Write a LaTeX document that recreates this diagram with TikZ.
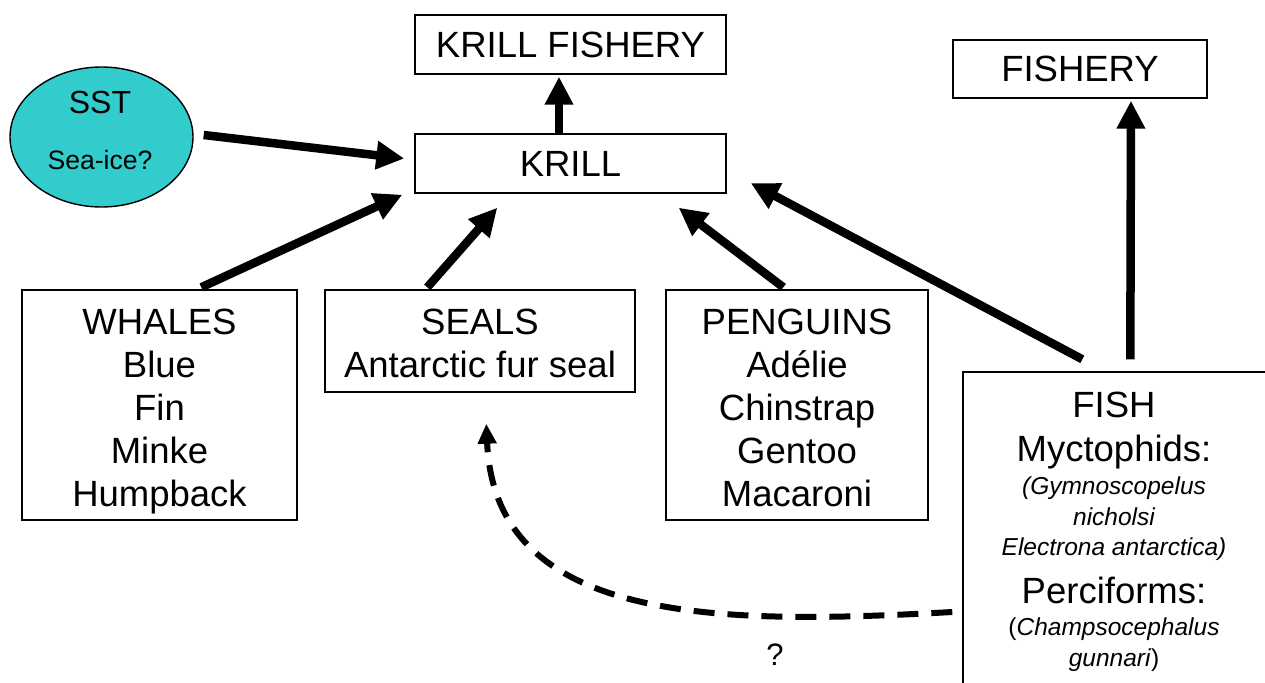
\documentclass[tikz,border=0pt]{standalone}
\usepackage{fontspec}
\setmainfont{Liberation Sans}
\usetikzlibrary{arrows.meta,shapes.geometric,calc}
\definecolor{sstfill}{HTML}{33CCCC}
\tikzset{
  box/.style={draw=black, line width=1.4pt, rectangle, inner sep=0pt, anchor=center},
  big/.style={font=\fontsize{36.5}{43}\selectfont},
  txt/.style={inner sep=0pt, align=center, anchor=north},
  bigarrow/.style={line width=8.5pt, -{Triangle[length=28pt,width=27pt]}},
  dasharrow/.style={line width=6pt, dash pattern=on 21pt off 13pt, -{Triangle[length=20pt,width=18pt]}}
}
\begin{document}
\begin{tikzpicture}[x=1pt,y=-1pt]
\useasboundingbox (0,0) rectangle (1265,682);
% boxes
\node[box, big, minimum width=311, minimum height=59] (kf) at (570.5,44.5) {KRILL FISHERY};
\node[box, big, minimum width=311, minimum height=59] (krill) at (570.5,163.5) {KRILL};
\node[box, big, minimum width=254, minimum height=58] (fishery) at (1080,69) {FISHERY};
\node[draw=black, line width=1.4pt, fill=sstfill, ellipse, inner sep=0pt, minimum width=183, minimum height=140] (sst) at (101.5,137) {};
\node[box, minimum width=275, minimum height=230] (whales) at (159.5,405) {};
\node[box, minimum width=310, minimum height=102] (seals) at (480,341) {};
\node[box, minimum width=262, minimum height=230] (penguins) at (797,405) {};
\node[box, minimum width=317, minimum height=328] (fish) at (1121.5,536) {};
% texts
\node[txt, font=\fontsize{32}{38}\selectfont] (ssttxt) at (100,91) {SST};
\node[txt, font=\fontsize{26.6}{32}\selectfont] (seaice) at (100,150) {Sea-ice?};
\node[txt, big] (whtxt) at (159.5,309) {WHALES\\Blue\\Fin\\Minke\\Humpback};
\node[txt, big] (setxt) at (480,309) {SEALS\\Antarctic fur seal};
\node[txt, big] (petxt) at (797,309) {PENGUINS\\Adélie\\Chinstrap\\Gentoo\\Macaroni};
\node[txt, font=\fontsize{36.5}{44}\selectfont] (fitxt) at (1114,392) {FISH\\Myctophids:};
\node[txt, font=\fontsize{24.5}{30.5}\selectfont\itshape] (mytxt) at (1114,477) {(Gymnoscopelus\\nicholsi\\Electrona antarctica)};
\node[txt, font=\fontsize{36.5}{44}\selectfont] (petxt2) at (1114,577) {Perciforms:};
\node[txt, font=\fontsize{24.5}{31}\selectfont] (chtxt) at (1114,618) {(\textit{Champsocephalus}\\\textit{gunnari})};
\node[inner sep=0pt, font=\fontsize{31}{36}\selectfont] (qm) at (775,655) {?};
% arrows
\draw[bigarrow] ([xshift=-11.5pt]krill.north) -- ([xshift=-11.5pt,yshift=-2pt]kf.south);
\draw[bigarrow] ($(sst.east)+(10,-2)$) -- ($(krill.west)+(-10,-5)$);
\draw[bigarrow] ($(whales.north west)+(180,-2)$) -- ($(krill.south west)+(-12,1)$);
\draw[bigarrow] ($(seals.north west)+(103,-2)$) -- ($(krill.south west)+(83,14)$);
\draw[bigarrow] ($(penguins.north west)+(118,-2)$) -- ($(krill.south east)+(-48,14)$);
\draw[bigarrow] ($(fish.north west)+(120,-12)$) -- ($(krill.east)+(24,19.5)$);
\draw[bigarrow] ($(fish.north west)+(168,-12)$) -- ($(fishery.south)+(51,2)$);
\draw[dasharrow] ($(fish.west)+(-10,76)$) .. controls (720,625) and (495,625) .. ($(seals.south west)+(162,31)$);
\end{tikzpicture}
\end{document}
